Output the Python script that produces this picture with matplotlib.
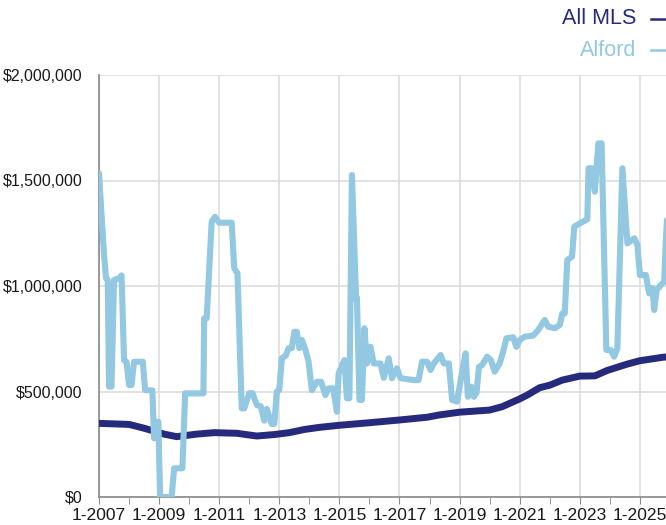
import matplotlib
matplotlib.use("Agg")
import matplotlib.pyplot as plt
from matplotlib.ticker import FuncFormatter, MultipleLocator

plt.rcParams['font.family'] = ['Liberation Sans', 'DejaVu Sans']

# months since Jan 2007, median price in $1000s
alford_months = [0, 2, 2.8, 3.5, 4, 5, 6, 8.5, 9, 10, 11, 12, 13, 14, 17.5, 18.4, 21.3, 22,
                 23.7, 24.4, 29, 30, 33.3, 34.4, 41.7, 42, 43, 45, 46.3, 48, 53, 54, 55.3,
                 57, 58, 60, 61.3, 63, 64.6, 66, 67, 69, 70, 71, 72, 73, 74.6, 75.7, 77,
                 78, 79, 80, 81, 82.4, 83.7, 85, 87, 88.7, 90.4, 91.7, 93.5, 95, 95.7, 98,
                 99, 100, 101, 102.7, 103, 104, 105, 106, 107, 108.4, 109.7, 112.4, 113.7,
                 115.7, 117, 119, 120.4, 125.7, 127.6, 129, 131, 132.4, 133.7, 136.4,
                 137.7, 139.7, 141, 143, 145, 146.4, 147.3, 148.7, 149.7, 150.8, 151.7,
                 153, 155, 156.5, 158, 160, 161.4, 162.7, 165.4, 166.7, 168, 170, 173.4,
                 175.4, 178, 179.4, 182, 184, 185, 186, 187, 188.9, 189.8, 192, 195,
                 195.5, 196.8, 198, 199.4, 200.7, 202.6, 204.3, 205.7, 207, 209, 211,
                 213.8, 215, 216, 218.4, 219.7, 221, 221.7, 222.7, 224.4, 225.7, 226.3, 227]
alford_values = [1535, 1150, 1038, 1028, 523, 523, 1028, 1040, 1050, 649, 640, 531, 531, 641,
                 641, 507, 505, 278, 357, 0, 0, 136, 136, 491, 491, 847, 847, 1305, 1328,
                 1300, 1300, 1084, 1060, 420, 420, 492, 492, 436, 430, 362, 417, 346, 346,
                 499, 508, 657, 670, 705, 706, 783, 783, 706, 744, 700, 641, 507, 546, 546,
                 483, 515, 515, 404, 586, 649, 468, 468, 1526, 934, 945, 460, 460, 800, 633,
                 712, 633, 633, 565, 657, 563, 610, 563, 554, 554, 641, 641, 602, 633, 673,
                 633, 633, 460, 452, 594, 681, 475, 523, 475, 495, 617, 625, 665, 649, 594,
                 633, 689, 752, 757, 712, 744, 760, 765, 791, 839, 807, 800, 815, 870, 870,
                 1123, 1139, 1281, 1297, 1316, 1558, 1558, 1447, 1676, 1676, 697, 697, 665,
                 705, 1558, 1202, 1226, 1194, 1052, 1052, 965, 990, 886, 981, 1005, 1020,
                 1202, 1350]

mls_months = [0, 12, 18, 26, 31, 39, 46, 55, 63, 70, 76, 82, 88, 96, 108, 120, 131, 136,
              144, 156, 161, 168, 171, 176, 180, 185, 192, 198, 203, 211, 216, 225, 227]
mls_values = [349, 344, 326, 298, 286, 298, 305, 302, 289, 296, 305, 320, 330, 340, 352,
              365, 378, 389, 402, 412, 428, 465, 483, 518, 530, 554, 573, 574, 600, 630,
              646, 662, 664]

navy = '#262a7c'
light = '#93c8e2'

fig = plt.figure(figsize=(6.66, 5.25), dpi=100)
ax = fig.add_axes([99 / 666, 28 / 525, 601 / 666, 422 / 525])

ax.plot([2007 + m / 12 for m in mls_months], [v * 1000 for v in mls_values],
        color=navy, lw=5, solid_joinstyle='round', solid_capstyle='round', zorder=3)
ax.plot([2007 + m / 12 for m in alford_months], [v * 1000 for v in alford_values],
        color=light, lw=4.4, solid_joinstyle='round', solid_capstyle='round', zorder=4)

ax.set_xlim(2007, 2027)
ax.set_ylim(0, 2000000)
ax.yaxis.set_major_locator(MultipleLocator(500000))
ax.yaxis.set_major_formatter(FuncFormatter(lambda v, p: '${:,.0f}'.format(v)))
ax.set_xticks(range(2007, 2027, 2))
ax.set_xticklabels(['1-%d' % y for y in range(2007, 2027, 2)])
ax.set_xticks(range(2007, 2027), minor=True)

ax.grid(True, which='major', color='#dddddd', lw=1.2)
ax.set_axisbelow(True)
for s in ['top', 'right']:
    ax.spines[s].set_visible(False)
for s in ['left', 'bottom']:
    ax.spines[s].set_color('#8a8a8a')
    ax.spines[s].set_linewidth(1.2)
ax.tick_params(axis='x', which='both', length=5, color='#8a8a8a', labelsize=12.6, pad=3,
               labelcolor='#1a1a1a')
ax.tick_params(axis='y', length=0, labelsize=11.5, pad=12, labelcolor='#1a1a1a')

# legend at top right (cut off by the frame)
fig.text(636 / 666, 1 - 19 / 525, 'All MLS', color=navy, fontsize=15.5, ha='right', va='center')
fig.text(636 / 666, 1 - 50 / 525, 'Alford', color=light, fontsize=15.5, ha='right', va='center')
fig.add_artist(plt.Line2D([651 / 666, 1.02], [1 - 19 / 525] * 2, color=navy, lw=1.8))
fig.add_artist(plt.Line2D([651 / 666, 1.02], [1 - 50 / 525] * 2, color=light, lw=1.8))

fig.savefig('out.png', dpi=100)
